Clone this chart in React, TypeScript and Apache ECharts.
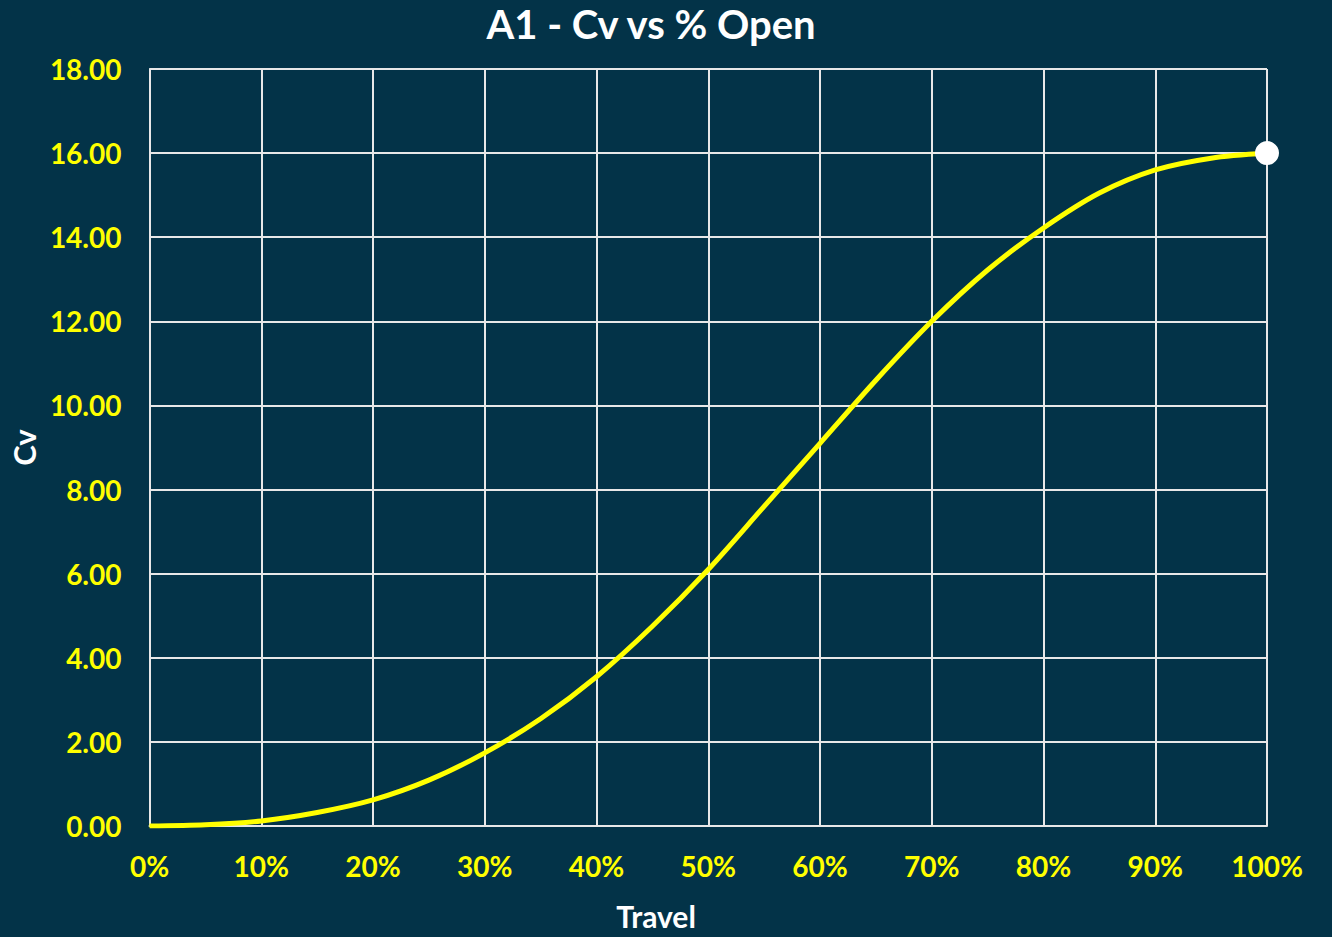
import React, { useEffect, useRef } from "react";
import * as echarts from "echarts";

const travel = [0, 5, 10, 15, 20, 25, 30, 35, 40, 45, 50, 55, 60, 65, 70, 75, 80, 85, 90, 95, 100];
const cv = [0, 0.03, 0.12, 0.32, 0.62, 1.09, 1.74, 2.55, 3.55, 4.75, 6.1, 7.6, 9.1, 10.6, 12.0, 13.22, 14.22, 15.05, 15.6, 15.88, 16.0];
const yTicks = { min: 0, max: 18, interval: 2 };
const xTicks = { min: 0, max: 100, interval: 10 };
const titleText = "A1 - Cv vs % Open";
const xName = "Travel";
const yName = "Cv";

const FONT = "Lato";
const BG = "#033348";

export default function App() {
  const ref = useRef<HTMLDivElement>(null);
  useEffect(() => {
    if (!ref.current) return;
    const chart = echarts.init(ref.current, null, { renderer: "svg" });
    const lineData = travel.map((t, i) => [t, cv[i]]);
    const last = lineData[lineData.length - 1];
    chart.setOption({
      animation: false,
      backgroundColor: BG,
      textStyle: { fontFamily: FONT },
      graphic: [
        {
          type: "text",
          x: 651,
          y: 24,
          style: {
            text: titleText,
            fill: "#ffffff",
            font: `bold 40px ${FONT}`,
            textAlign: "center",
            textVerticalAlign: "middle",
          },
        },
        {
          type: "text",
          x: 656,
          y: 916,
          style: {
            text: xName,
            fill: "#ffffff",
            font: `bold 30px ${FONT}`,
            textAlign: "center",
            textVerticalAlign: "middle",
          },
        },
      ],
      grid: { left: 148, right: 65, top: 69, bottom: 111, containLabel: false },
      xAxis: {
        type: "value",
        min: xTicks.min,
        max: xTicks.max,
        interval: xTicks.interval,
        axisLine: { show: true, lineStyle: { color: "#e8e8e8", width: 2 } },
        axisTick: { show: false },
        axisLabel: {
          color: "#ffff00",
          fontWeight: "bold",
          fontSize: 28,
          fontFamily: FONT,
          margin: 26,
          formatter: (v: number) => `${v}%`,
        },
        splitLine: { show: true, lineStyle: { color: "#e8e8e8", width: 2 } },
      },
      yAxis: {
        type: "value",
        min: yTicks.min,
        max: yTicks.max,
        interval: yTicks.interval,
        name: yName,
        nameLocation: "middle",
        nameGap: 97,
        nameRotate: 90,
        nameTextStyle: { color: "#ffffff", fontWeight: "bold", fontSize: 31, fontFamily: FONT },
        axisLine: { show: true, lineStyle: { color: "#e8e8e8", width: 2 } },
        axisTick: { show: false },
        axisLabel: {
          color: "#ffff00",
          fontWeight: "bold",
          fontSize: 28,
          fontFamily: FONT,
          margin: 28,
          formatter: (v: number) => v.toFixed(2),
        },
        splitLine: { show: true, lineStyle: { color: "#e8e8e8", width: 2 } },
      },
      series: [
        {
          type: "line",
          data: lineData,
          smooth: 0.3,
          showSymbol: false,
          symbol: "none",
          lineStyle: { color: "#ffff00", width: 5 },
          z: 3,
        },
        {
          type: "scatter",
          data: [last],
          symbol: "circle",
          symbolSize: 24,
          itemStyle: { color: "#ffffff", opacity: 1 },
          z: 4,
        },
      ],
    });
    return () => chart.dispose();
  }, []);
  return (
    <div
      ref={ref}
      style={{ position: "fixed", left: 0, top: 0, width: 1332, height: 937 }}
    />
  );
}
